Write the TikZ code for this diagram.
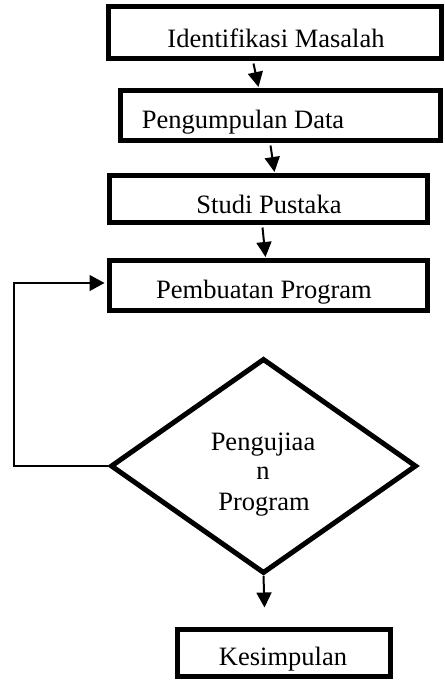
\documentclass[tikz,border=0pt]{standalone}
\usepackage{fontspec}
\setmainfont{Liberation Serif}
\usetikzlibrary{arrows.meta,shapes.geometric}
\begin{document}
\begin{tikzpicture}[x=1pt,y=-1pt,
  box/.style={draw,line width=5pt,inner sep=0pt},
  lbl/.style={anchor=base,inner sep=0pt,font=\fontsize{26.5}{30}\selectfont},
  arr/.style={line width=2pt,-{Triangle[length=15pt,width=15pt]}},
  fb/.style={line width=1.4pt,-{Triangle[length=15pt,width=16pt]}}]
\useasboundingbox (0,0) rectangle (445,681);
\node[box,minimum width=333pt,minimum height=52pt] (b1) at (275,32.5) {};
\node[box,minimum width=320pt,minimum height=50pt] (b2) at (280.5,115.5) {};
\node[box,minimum width=318pt,minimum height=47pt] (b3) at (268.5,199) {};
\node[box,minimum width=318pt,minimum height=50pt] (b4) at (268.5,285.5) {};
\node[draw,line width=5pt,shape=diamond,inner sep=0pt,minimum width=306pt,minimum height=215pt] (d) at (263.5,466) {};
\node[box,minimum width=213pt,minimum height=47pt] (b5) at (284,653) {};
\node[lbl] (t1) at (276,47) {Identifikasi Masalah};
\node[lbl] (t2) at (243,128) {Pengumpulan Data};
\node[lbl] (t3) at (269,213) {Studi Pustaka};
\node[lbl] (t4) at (264,298) {Pembuatan Program};
\node[lbl] (t5a) at (263,450) {Pengujiaa};
\node[lbl] (t5b) at (263,479) {n};
\node[lbl] (t5c) at (264,510) {Program};
\node[lbl] (t6) at (283,665) {Kesimpulan};
\draw[arr] ([xshift=147.5pt,yshift=-2.5pt]b1.south west) -- ([xshift=140.5pt,yshift=1pt]b2.north west);
\draw[arr] ([xshift=152.5pt,yshift=-2.5pt]b2.south west) -- ([xshift=167.5pt,yshift=1pt]b3.north west);
\draw[arr] ([xshift=155.5pt,yshift=-2.5pt]b3.south west) -- ([xshift=158.5pt,yshift=1pt]b4.north west);
\coordinate (c1) at (14,466);
\draw[fb] (d.west) -- (c1) |- ([yshift=2.5pt,xshift=-2.5pt]b4.west);
\draw[arr] (d.south) -- ([xshift=-19.5pt,yshift=19.5pt]b5.north);
\end{tikzpicture}
\end{document}
